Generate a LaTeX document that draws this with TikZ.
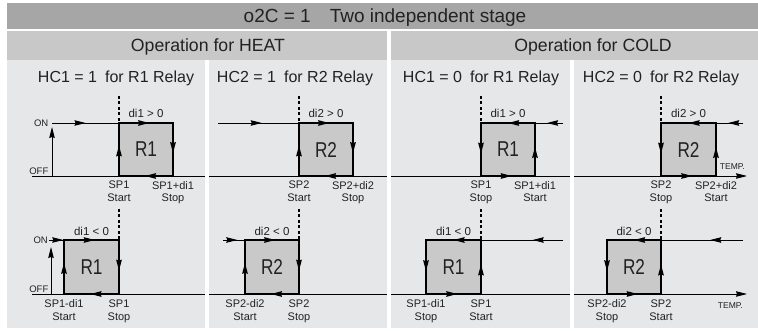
\documentclass[tikz,border=0pt]{standalone}
\usepackage{fontspec}
\setmainfont{Liberation Sans}
\newfontfamily\condfont{Liberation Sans}[FakeStretch=0.8]
\usetikzlibrary{arrows.meta,decorations.markings}
\definecolor{titlegray}{HTML}{A6A6A6}
\definecolor{headgray}{HTML}{C8C8C8}
\definecolor{bodygray}{HTML}{E6E7E8}
\definecolor{sqgray}{HTML}{C9C9C9}
\definecolor{txt}{HTML}{222222}
% name, left, right, top, bottom, label
\newcommand\heatsq[6]{%
  \coordinate (#1tl) at (#2,#4); \coordinate (#1tr) at (#3,#4);
  \coordinate (#1bl) at (#2,#5); \coordinate (#1br) at (#3,#5);
  \fill[sqgray] (#1tl) rectangle (#1br);
  \node[rlab] (#1r) at ({(#2+#3)/2},{(#4+#5)/2}) {#6};
  \draw[sqedge,ma=0.58] (#1bl) -- (#1tl);
  \draw[sqedge,ma=0.56] (#1tl) -- (#1tr);
  \draw[sqedge,ma=0.57] (#1tr) -- (#1br);
  \draw[sqedge,ma=0.52] (#1br) -- (#1bl);
}
\newcommand\coldsq[6]{%
  \coordinate (#1tl) at (#2,#4); \coordinate (#1tr) at (#3,#4);
  \coordinate (#1bl) at (#2,#5); \coordinate (#1br) at (#3,#5);
  \fill[sqgray] (#1tl) rectangle (#1br);
  \node[rlab] (#1r) at ({(#2+#3)/2},{(#4+#5)/2}) {#6};
  \draw[sqedge,ma=0.5] (#1tr) -- (#1tl);
  \draw[sqedge,ma=0.58] (#1tl) -- (#1bl);
  \draw[sqedge,ma=0.57] (#1bl) -- (#1br);
  \draw[sqedge,ma=0.55] (#1br) -- (#1tr);
}
\begin{document}
\begin{tikzpicture}[x=1pt,y=-1pt,
  ma/.style={postaction={decorate,decoration={markings,mark=at position #1 with {\arrow{Stealth[length=11pt,width=5.5pt,inset=1pt]}}}}},
  ln/.style={line width=0.9pt},
  sqedge/.style={line width=1.6pt,line cap=rect},
  dsh/.style={line width=1.3pt,dash pattern=on 3pt off 2.5pt},
  tip/.style={-{Stealth[length=11pt,width=5.5pt,inset=1pt]}},
  splab/.style={font=\fontsize{11}{12.7}\selectfont,align=center,anchor=north,inner sep=0pt,text=txt},
  dilab/.style={font=\fontsize{11.5}{13}\selectfont,anchor=base,inner sep=0pt,text=txt},
  rlab/.style={font=\condfont\fontsize{21.5}{24}\selectfont,inner sep=0pt,text=txt},
  onoff/.style={font=\fontsize{9.5}{11}\selectfont,anchor=base east,inner sep=0pt,text=txt},
  templab/.style={font=\fontsize{8.5}{10}\selectfont,anchor=base east,inner sep=0pt,text=txt},
  hd/.style={anchor=base,inner sep=0pt,text=txt}
]
\useasboundingbox (0,0) rectangle (758,331);
\fill[white] (0,0) rectangle (758,331);
% backgrounds
\fill[titlegray] (7,3) rectangle (758,29);
\fill[headgray] (7,31) rectangle (387,60);
\fill[headgray] (391,31) rectangle (758,60);
\fill[bodygray] (7,60) rectangle (758,328);
% axes
\coordinate (ax1s) at (32,176); \coordinate (ax1e) at (747,176);
\coordinate (ax2s) at (32,294); \coordinate (ax2e) at (747,294);
\draw[ln,tip] (ax1s) -- (ax1e);
\draw[ln,tip] (ax2s) -- (ax2e);
% separators
\fill[white] (205,60) rectangle (209,328);
\fill[white] (387,31) rectangle (391,328);
\fill[white] (569.5,60) rectangle (573.5,328);
% headers
\node[hd,font=\fontsize{19}{22}\selectfont] (title) at (385,22.5) {o2C = 1\quad Two independent stage};
\node[hd,font=\fontsize{17.7}{20}\selectfont] (heat) at (208,52) {Operation for HEAT};
\node[hd,font=\fontsize{17.7}{20}\selectfont] (cold) at (593,52) {Operation for COLD};
\node[hd,font=\fontsize{16}{19}\selectfont] (h1) at (116,83) {HC1 = 1\enspace for R1 Relay};
\node[hd,font=\fontsize{16}{19}\selectfont] (h2) at (295,83) {HC2 = 1\enspace for R2 Relay};
\node[hd,font=\fontsize{16}{19}\selectfont] (h3) at (481,83) {HC1 = 0\enspace for R1 Relay};
\node[hd,font=\fontsize{16}{19}\selectfont] (h4) at (661,83) {HC2 = 0\enspace for R2 Relay};
% squares
\heatsq{S1}{119}{173}{123}{176}{R1}
\heatsq{S2}{299}{353}{123}{176}{R2}
\coldsq{S3}{481}{535}{123}{176}{R1}
\coldsq{S4}{661}{716}{123}{176}{R2}
\heatsq{B1}{64}{119}{240}{294}{R1}
\heatsq{B2}{245}{299}{240}{294}{R2}
\coldsq{B3}{426}{481}{240}{294}{R1}
\coldsq{B4}{607}{661}{240}{294}{R2}
% dashed set-point marks
\coordinate (d1) at (119,96); \draw[dsh] (d1) -- (S1tl);
\coordinate (d2) at (299,96); \draw[dsh] (d2) -- (S2tl);
\coordinate (d3) at (481,96); \draw[dsh] (d3) -- (S3tl);
\coordinate (d4) at (661,96); \draw[dsh] (d4) -- (S4tl);
\coordinate (d5) at (119,209); \draw[dsh] (d5) -- (B1tr);
\coordinate (d6) at (299,209); \draw[dsh] (d6) -- (B2tr);
\coordinate (d7) at (481,209); \draw[dsh] (d7) -- (B3tr);
\coordinate (d8) at (661,209); \draw[dsh] (d8) -- (B4tr);
% approach lines
\coordinate (on1) at (52,123); \draw[ln,ma=0.5] (on1) -- (S1tl);
\coordinate (off1) at (52,176); \coordinate (up1) at (52,127); \draw[ln,tip] (off1) -- (up1);
\coordinate (in2) at (218,123); \draw[ln,ma=0.54] (in2) -- (S2tl);
\coordinate (in3) at (563,123); \draw[ln,ma=0.57] (in3) -- (S3tr);
\coordinate (in4) at (743,123); \draw[ln,ma=0.55] (in4) -- (S4tr);
\coordinate (on5) at (49,240); \draw[ln,ma=0.95] (on5) -- (B1tl);
\coordinate (off5) at (51,294); \coordinate (up5) at (51,247); \draw[ln,tip] (off5) -- (up5);
\coordinate (in6) at (223,240); \draw[ln,ma=0.65] (in6) -- (B2tl);
\coordinate (in7) at (563,240); \draw[ln,ma=0.37] (in7) -- (B3tr);
\coordinate (in8) at (743,240); \draw[ln,ma=0.4] (in8) -- (B4tr);
% ON / OFF
\node[onoff] (onA) at (48.5,126.4) {ON};
\node[onoff] (offA) at (48.5,174.5) {OFF};
\node[onoff] (onB) at (48,243.4) {ON};
\node[onoff] (offB) at (48.5,292.5) {OFF};
\node[templab] (tempA) at (745,170) {TEMP.};
\node[templab] (tempB) at (743,308.5) {TEMP.};
% hysteresis labels
\node[dilab] (g1) at (146,118) {di1 > 0};
\node[dilab] (g2) at (326,118) {di2 > 0};
\node[dilab] (g3) at (508,118) {di1 > 0};
\node[dilab] (g4) at (688.5,118) {di2 > 0};
\node[dilab] (g5) at (91.5,236) {di1 < 0};
\node[dilab] (g6) at (272,236) {di2 < 0};
\node[dilab] (g7) at (453.5,236) {di1 < 0};
\node[dilab] (g8) at (634,236) {di2 < 0};
% set-point labels
\node[splab] (a1) at (119,181) {SP1\\Start};
\node[splab] (a2) at (173,181) {SP1+di1\\Stop};
\node[splab] (a3) at (299,181) {SP2\\Start};
\node[splab] (a4) at (353,181) {SP2+di2\\Stop};
\node[splab] (a5) at (481,181) {SP1\\Stop};
\node[splab] (a6) at (535,181) {SP1+di1\\Start};
\node[splab] (a7) at (661,181) {SP2\\Stop};
\node[splab] (a8) at (716,181) {SP2+di2\\Start};
\node[splab] (b1) at (64,299.5) {SP1-di1\\Start};
\node[splab] (b2) at (119,299.5) {SP1\\Stop};
\node[splab] (b3) at (245,299.5) {SP2-di2\\Start};
\node[splab] (b4) at (299,299.5) {SP2\\Stop};
\node[splab] (b5) at (426,299.5) {SP1-di1\\Stop};
\node[splab] (b6) at (481,299.5) {SP1\\Start};
\node[splab] (b7) at (607,299.5) {SP2-di2\\Stop};
\node[splab] (b8) at (661,299.5) {SP2\\Start};
\end{tikzpicture}
\end{document}
